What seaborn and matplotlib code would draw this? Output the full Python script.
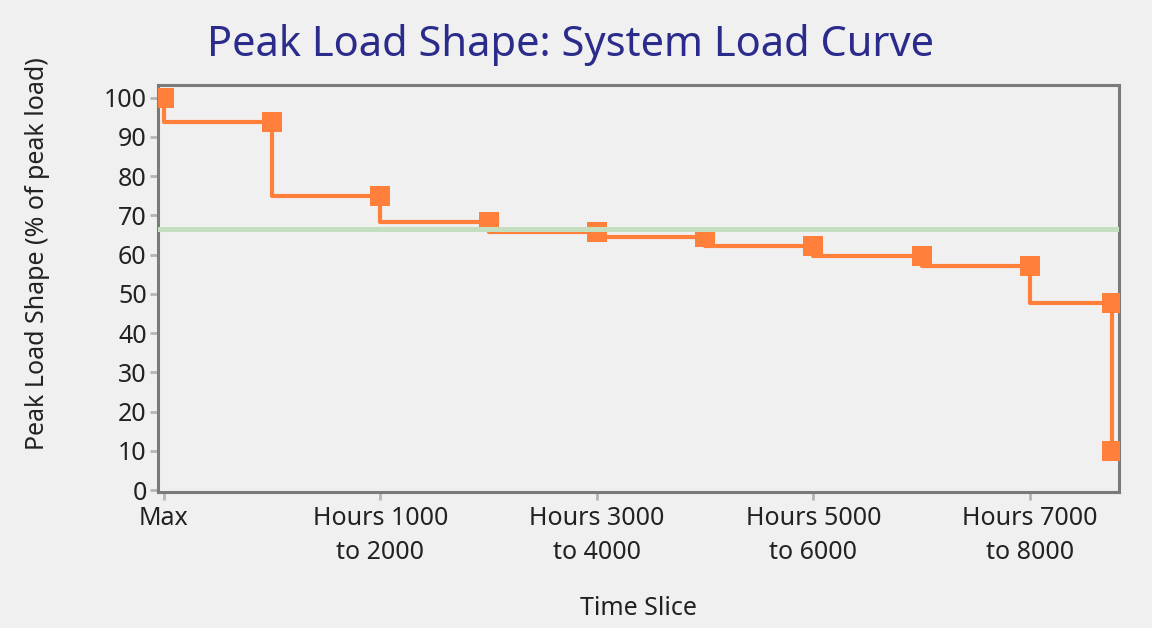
#!/usr/bin/env python3
"""
    Peak load shape: stepped system load curve by time slice
"""
import matplotlib
matplotlib.use("Agg")
import matplotlib.pyplot as plt
import seaborn as sns

# hours into the year for each time slice point (Max at 0, last slice ends at 8760)
hours = [0, 1000, 2000, 3000, 4000, 5000, 6000, 7000, 8000, 8760, 8760]
peak_load_pct = [100, 93.8, 75, 68.4, 65.8, 64.6, 62.2, 59.6, 57.1, 47.6, 9.9]
average_load_pct = 66.5

tick_hours = [0, 2000, 4000, 6000, 8000]
tick_labels = ["Max", "Hours 1000\nto 2000", "Hours 3000\nto 4000",
               "Hours 5000\nto 6000", "Hours 7000\nto 8000"]

BG = "#f0f0f0"
ORANGE = "#ff7f3b"
GREEN = "#c3dfbf"
FRAME = "#7a7a7a"
TEXT = "#222222"


def main():
    sns.set_style("white")
    plt.rcParams["font.family"] = ["Noto Sans", "DejaVu Sans"]

    fig, ax = plt.subplots(figsize=(11.52, 6.28), dpi=100)
    fig.patch.set_facecolor(BG)
    ax.set_facecolor(BG)
    fig.subplots_adjust(left=0.137, right=0.971, top=0.864, bottom=0.217)

    sns.lineplot(x=hours, y=peak_load_pct, estimator=None, sort=False,
                 drawstyle="steps-pre", color=ORANGE, linewidth=3,
                 marker="s", markersize=14, markeredgewidth=0, ax=ax,
                 zorder=3)
    ax.axhline(average_load_pct, color=GREEN, linewidth=3.6, zorder=5)

    ax.set_xlim(-55, 8820)
    ax.set_ylim(-0.4, 103.1)
    ax.set_yticks(range(0, 101, 10))
    ax.set_xticks(tick_hours)
    ax.set_xticklabels(tick_labels, linespacing=1.5)

    for side in ["left", "right", "top", "bottom"]:
        ax.spines[side].set_visible(True)
        ax.spines[side].set_color(FRAME)
        ax.spines[side].set_linewidth(2.2)

    ax.tick_params(axis="both", colors="#b5b5b5", length=6, width=2,
                   labelsize=18, labelcolor=TEXT, left=True, bottom=True)
    ax.tick_params(axis="x", pad=4)
    ax.tick_params(axis="y", pad=2)

    ax.set_ylabel("Peak Load Shape (% of peak load)", fontsize=18,
                  color=TEXT)
    ax.yaxis.set_label_coords(-0.112, 0.585)
    ax.set_xlabel("Time Slice", fontsize=18, color=TEXT, labelpad=22)
    fig.suptitle("Peak Load Shape: System Load Curve", fontsize=30,
                 color="#2b2b8c", x=0.495, y=0.962)

    fig.savefig("out.png", dpi=100, facecolor=BG)
    plt.close(fig)


if __name__ == "__main__":
    main()
